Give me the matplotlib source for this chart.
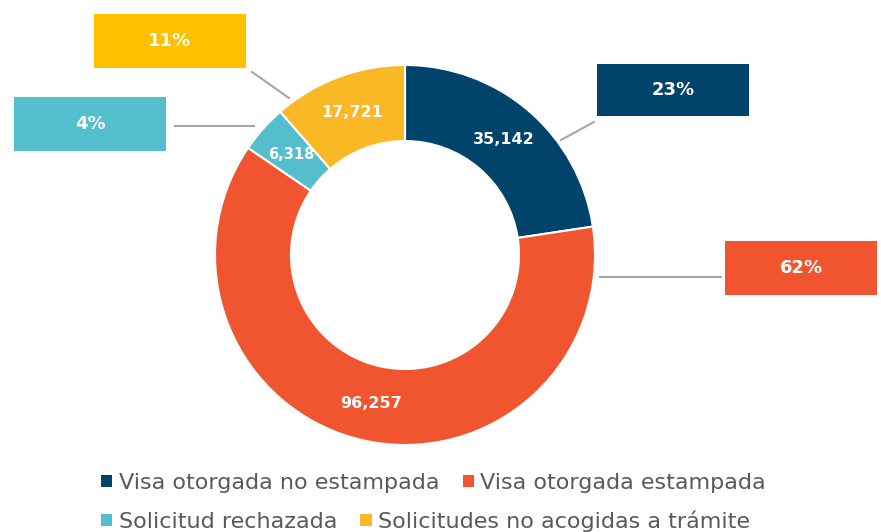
import matplotlib
matplotlib.use("Agg")
import matplotlib.pyplot as plt
from matplotlib.patches import Rectangle, Patch

categories = ["Visa otorgada no estampada", "Visa otorgada estampada",
              "Solicitud rechazada", "Solicitudes no acogidas a trámite"]
values = [35142, 96257, 6318, 17721]
wedge_colors = ["#00446B", "#F0552F", "#54BECC", "#FBB826"]
box_colors = ["#00446B", "#F0552F", "#54BECC", "#FFC000"]

H = 532
fig = plt.figure(figsize=(8.81, 5.32), dpi=100)
ax = fig.add_axes([0, 0, 1, 1])
ax.set_xlim(0, 881)
ax.set_ylim(0, H)
ax.axis("off")

font = "DejaVu Sans"
total = sum(values)

wedges, _, autotexts = ax.pie(
    values, colors=wedge_colors, startangle=90, counterclock=False,
    center=(405, H - 255), radius=190, pctdistance=0.8,
    autopct=lambda p: f"{p * total / 100:,.0f}",
    wedgeprops=dict(width=76, edgecolor="white", linewidth=1.5),
    textprops=dict(color="white", fontsize=11.5, fontweight="bold", family=font),
)
autotexts[2].set_fontsize(10.5)
ax.set_xlim(0, 881)
ax.set_ylim(0, H)
ax.set_aspect("equal")

# percentage boxes: (left, top, width, height) in pixels, leader line endpoints
boxes = [
    ((597, 64, 152, 52), ((594, 122), (561, 140))),
    ((725, 241, 152, 54), ((600, 277), (721, 277))),
    ((14, 97, 152, 54), ((175, 126), (254, 126))),
    ((94, 14, 152, 54), ((252, 72), (289, 98))),
]
for v, c, (rect, line) in zip(values, box_colors, boxes):
    x, y, w, h = rect
    ax.add_patch(Rectangle((x, H - y - h), w, h, facecolor=c, edgecolor="none"))
    ax.text(x + w / 2, H - y - h / 2, f"{round(v / total * 100)}%", color="white",
            fontsize=13, fontweight="bold", ha="center", va="center", family=font)
    (x1, y1), (x2, y2) = line
    ax.plot([x1, x2], [H - y1, H - y2], color="#A6A6A6", lw=1.5)

# legend: two flowing rows
rows = [([0, 1], 483), ([2, 3], 521)]
for idx, yc in rows:
    handles = [Patch(facecolor=wedge_colors[i], edgecolor="none") for i in idx]
    labels = [categories[i] for i in idx]
    leg = fig.legend(handles, labels, ncol=2, loc="center left",
                     bbox_to_anchor=(0, 1 - yc / H), frameon=False,
                     handlelength=0.5, handleheight=0.5, handletextpad=0.3,
                     columnspacing=1.05, borderpad=0, borderaxespad=0,
                     prop=dict(family=font, size=16))
    for t in leg.get_texts():
        t.set_color("#595959")
    leg.set_bbox_to_anchor((101 / 881, 1 - yc / H), transform=fig.transFigure)

fig.savefig("out.png", dpi=100)
